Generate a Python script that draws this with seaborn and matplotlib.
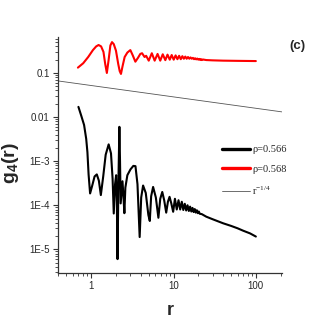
import numpy as np
import pandas as pd
import matplotlib
matplotlib.use("Agg")
import matplotlib.pyplot as plt
import matplotlib.ticker as mticker
import seaborn as sns

# ---------------- data ----------------
r_black = [0.70, 0.76, 0.82, 0.87, 0.90, 0.93, 0.97, 1.03, 1.10, 1.17, 1.24, 1.31,
           1.40, 1.50, 1.63, 1.74, 1.82, 1.88, 1.95, 2.01, 2.05, 2.09, 2.14, 2.20,
           2.24, 2.28, 2.40, 2.47, 2.53, 2.60, 2.75, 3.0, 3.25, 3.45, 3.65, 3.88,
           4.05, 4.27, 4.6, 4.95, 5.15, 5.35, 5.65, 6.1, 6.55, 6.9, 7.3, 7.7, 8.15,
           8.55, 8.95, 9.4, 9.9, 10.4, 10.95, 11.5, 12.05, 12.6, 13.15, 13.7, 14.25,
           14.8, 15.35, 15.9, 16.45, 17.0, 17.55, 18.1, 18.65, 19.2, 19.75, 20.3,
           20.85, 22, 25, 30, 40, 50, 60, 70, 85, 100]
g_black = [1.7e-2, 1.05e-2, 6.6e-3, 3.2e-3, 1.6e-3, 5e-4, 1.85e-4, 2.8e-4, 4.5e-4,
           5.0e-4, 3.6e-4, 1.7e-4, 4.5e-4, 1.4e-3, 2.4e-3, 1.5e-3, 4e-4, 6.5e-5,
           3e-4, 4.8e-4, 1.2e-4, 6e-6, 3e-4, 6e-3, 1.0e-3, 1.1e-4, 3.5e-4, 1.5e-4,
           6.6e-5, 2.5e-4, 4.8e-4, 6.5e-4, 7.8e-4, 7.7e-4, 3e-4, 1.9e-5, 1.5e-4,
           2.8e-4, 1.9e-4, 6e-5, 4.4e-5, 1.6e-4, 2.6e-4, 1.5e-4, 5.2e-5, 1.4e-4,
           2.0e-4, 1.3e-4, 6.8e-5, 1.2e-4, 1.55e-4, 1.1e-4, 7.1e-5, 1.4e-4, 8e-5,
           1.3e-4, 8e-5, 1.2e-4, 7.8e-5, 1.08e-4, 7.6e-5, 1.0e-4, 7.4e-5, 9.3e-5,
           7.2e-5, 8.7e-5, 7.0e-5, 8.2e-5, 6.8e-5, 7.7e-5, 6.6e-5, 7.2e-5, 6.4e-5,
           6.3e-5, 5.5e-5, 4.8e-5, 3.9e-5, 3.4e-5, 3.0e-5, 2.65e-5, 2.3e-5, 1.95e-5]

r_red = [0.69, 0.80, 0.92, 1.05, 1.15, 1.23, 1.32, 1.41, 1.48, 1.55, 1.63, 1.71,
         1.79, 1.88, 2.00, 2.13, 2.22, 2.30, 2.40, 2.55, 2.75, 2.99, 3.2, 3.44,
         3.7, 3.95, 4.15, 4.45, 4.65, 5.0, 5.45, 5.9, 6.4, 6.9, 7.4, 7.95, 8.45,
         9.0, 9.5, 10.05, 10.6, 11.15, 11.7, 12.25, 12.8, 13.35, 13.9, 14.45,
         15.0, 15.55, 16.1, 16.65, 17.2, 17.75, 18.3, 18.85, 19.4, 19.95, 20.5,
         21.05, 21.6, 22.15, 22.7, 25, 30, 40, 60, 100]
g_red = [0.132, 0.166, 0.23, 0.33, 0.40, 0.43, 0.40, 0.30, 0.16, 0.10, 0.20, 0.42,
         0.50, 0.45, 0.32, 0.16, 0.11, 0.095, 0.14, 0.23, 0.29, 0.33, 0.25, 0.18,
         0.22, 0.27, 0.28, 0.23, 0.245, 0.19, 0.28, 0.19, 0.27, 0.19, 0.265, 0.195,
         0.26, 0.20, 0.255, 0.20, 0.25, 0.205, 0.245, 0.205, 0.24, 0.21, 0.235,
         0.21, 0.23, 0.21, 0.225, 0.21, 0.22, 0.205, 0.215, 0.203, 0.212, 0.20,
         0.208, 0.198, 0.205, 0.196, 0.202, 0.196, 0.193, 0.19, 0.188, 0.186]

r_power = [0.394, 207]
g_power = [0.066, 0.0131]

series_labels = ["\u03c1=0.566", "\u03c1=0.568", r"$\mathregular{r^{-1/4}}$"]
ytick_vals = [1e-5, 1e-4, 1e-3, 1e-2, 1e-1]
ytick_labels = ["1E-5", "1E-4", "1E-3", "0.01", "0.1"]
xtick_vals = [1, 10, 100]
xtick_labels = ["1", "10", "100"]

# ---------------- figure ----------------
sns.set_style("ticks")
plt.rcParams["font.family"] = ["Liberation Sans", "DejaVu Sans"]
plt.rcParams["mathtext.fontset"] = "custom"
plt.rcParams["mathtext.rm"] = "Liberation Sans"
plt.rcParams["mathtext.bf"] = "Liberation Sans:bold"
plt.rcParams["mathtext.it"] = "Liberation Sans:italic"

fig = plt.figure(figsize=(3.27, 3.27), dpi=100)
ax = fig.add_axes([0.177, 0.165, 0.685, 0.722])

df_b = pd.DataFrame({"r": r_black, "g": g_black})
df_r = pd.DataFrame({"r": r_red, "g": g_red})
df_p = pd.DataFrame({"r": r_power, "g": g_power})

sns.lineplot(data=df_b, x="r", y="g", ax=ax, color="black", lw=1.5,
             sort=False, estimator=None, label=series_labels[0])
sns.lineplot(data=df_r, x="r", y="g", ax=ax, color="red", lw=1.5,
             sort=False, estimator=None, label=series_labels[1])
sns.lineplot(data=df_p, x="r", y="g", ax=ax, color="#555555", lw=0.6,
             sort=False, estimator=None, label=series_labels[2])

ax.set_xscale("log")
ax.set_yscale("log")
ax.set_xlim(0.394, 207)
ax.set_ylim(2.9e-6, 0.655)

ax.yaxis.set_major_locator(mticker.FixedLocator(ytick_vals))
ax.yaxis.set_major_formatter(mticker.FixedFormatter(ytick_labels))
ax.xaxis.set_major_locator(mticker.FixedLocator(xtick_vals))
ax.xaxis.set_major_formatter(mticker.FixedFormatter(xtick_labels))
ax.yaxis.set_minor_locator(mticker.LogLocator(base=10, subs=np.arange(2, 10), numticks=20))
ax.xaxis.set_minor_locator(mticker.LogLocator(base=10, subs=np.arange(2, 10), numticks=20))
ax.yaxis.set_minor_formatter(mticker.NullFormatter())
ax.xaxis.set_minor_formatter(mticker.NullFormatter())

for s in ["top", "right"]:
    ax.spines[s].set_visible(False)
for s in ["left", "bottom"]:
    ax.spines[s].set_color("#333333")
    ax.spines[s].set_linewidth(0.9)

ax.tick_params(axis="both", which="major", direction="out", length=3.5, width=0.8,
               color="#333333", labelsize=7, pad=2.5)
ax.tick_params(axis="both", which="minor", direction="out", length=2, width=0.6,
               color="#333333")

ax.set_xlabel("r", fontsize=13, fontweight="bold", labelpad=8)
ax.set_ylabel(r"$\mathbf{g_4(r)}$", fontsize=14)
ax.yaxis.set_label_coords(-0.165, 0.466)

fig.text(297 / 327, 1 - 46 / 327, "(c)", fontsize=9.5, fontweight="bold",
         ha="center", va="center")

leg = ax.legend(loc="upper left", bbox_to_anchor=(222 / 327, 1 - 145 / 327),
                bbox_transform=fig.transFigure, frameon=False, borderaxespad=0,
                borderpad=0, handlelength=2.7, handletextpad=0.2,
                labelspacing=1.0, prop={"family": "Liberation Serif", "size": 7.5})
for line, w in zip(leg.get_lines(), [2.4, 2.4, 0.6]):
    line.set_linewidth(w)

fig.savefig("out.png", dpi=100)
